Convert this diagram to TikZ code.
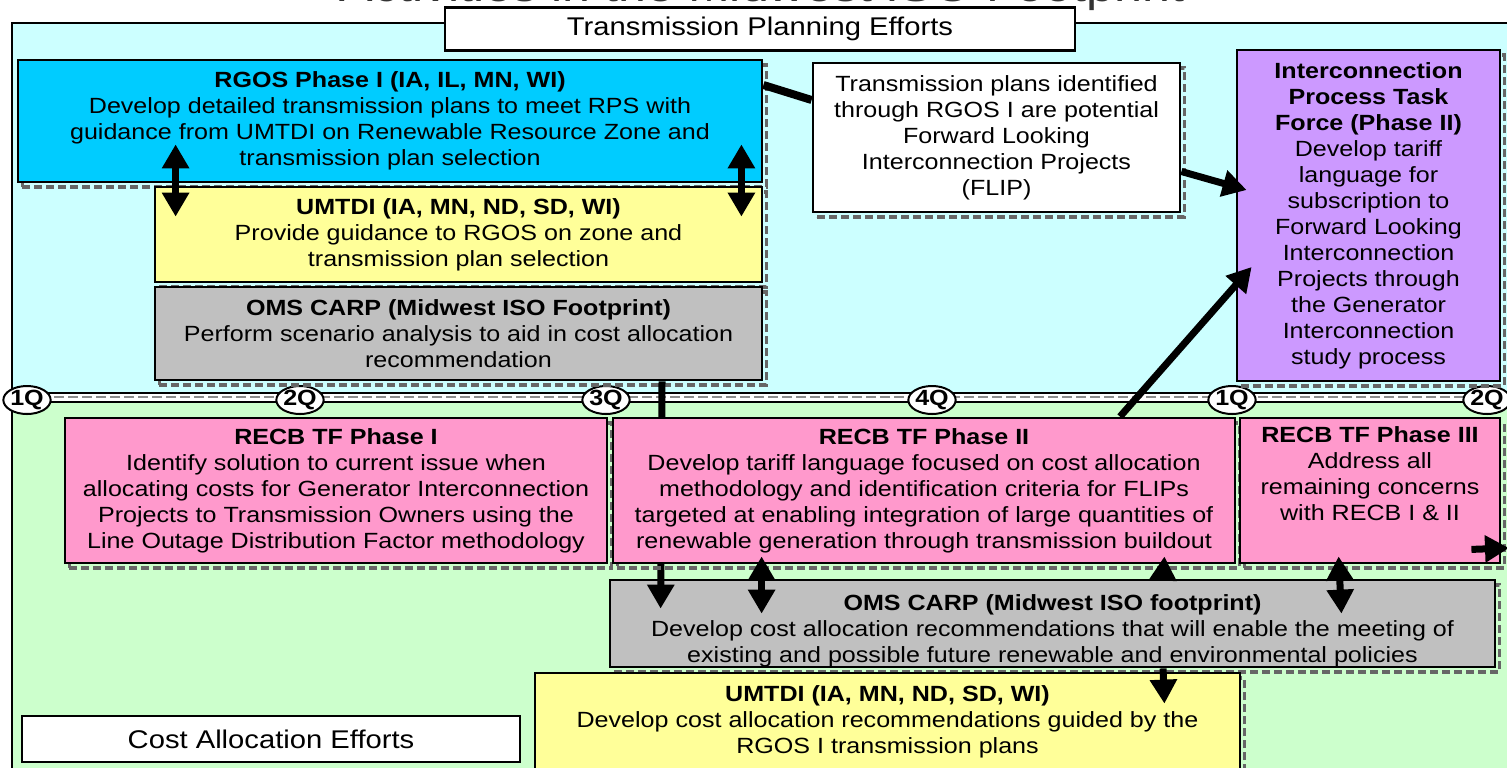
\documentclass[tikz,border=0pt]{standalone}
\usepackage{fontspec}
\setmainfont{Liberation Sans}[FakeStretch=1.14]
\usepackage{xcolor}
\usetikzlibrary{shapes.geometric, shadows, arrows.meta}

\definecolor{planbg}{HTML}{CCFFFF}
\definecolor{costbg}{HTML}{CCFFCC}
\definecolor{rgosblue}{HTML}{00CCFF}
\definecolor{umtdiyellow}{HTML}{FFFF99}
\definecolor{carpgray}{HTML}{C0C0C0}
\definecolor{iptfpurple}{HTML}{CC99FF}
\definecolor{recbpink}{HTML}{FF99CC}

\tikzset{
  task/.style={draw, line width=1.4pt, align=center, inner sep=0pt,
    drop shadow={shadow xshift=2.2pt, shadow yshift=-2.6pt, opacity=1, fill=none,
      draw=black!60, line width=1.8pt, dash pattern=on 4pt off 2pt}},
  effortbox/.style={draw, fill=white, line width=1.4pt, inner sep=0pt,
    font=\fontsize{12.8}{15}\selectfont},
  quarter/.style={ellipse, draw, fill=white, line width=1pt, inner sep=0pt,
    minimum width=21pt, minimum height=14pt, font=\fontsize{11}{12}\selectfont\bfseries},
  bigarrow/.style={line width=3.5pt, -{Triangle[width=13pt,length=12pt]}},
  bothways/.style={line width=3.5pt, {Triangle[width=13pt,length=12pt]}-{Triangle[width=13pt,length=12pt]}},
}

\begin{document}
\begin{tikzpicture}[x=0.5pt, y=-0.5pt, font=\fontsize{11}{13}\selectfont]
\clip (0,0) rectangle (1507,767);

% the two planning areas
\fill[planbg] (12,23) rectangle (1530,397);
\fill[costbg] (12,397) rectangle (1530,790);
\draw[line width=1.2pt] (1530,23) -- (12,23) -- (12,790);

% time line
\draw[line width=1pt, double=white, double distance=3.5pt] (12,397) -- (1530,397);
\draw[black!45, line width=1.2pt, dash pattern=on 5pt off 2pt] (12,397) -- (1530,397);
\foreach \x/\q [count=\i] in {27/1Q, 300/2Q, 606/3Q, 932/4Q, 1232/1Q, 1487/2Q}
  \node[quarter] (q\i) at (\x,400) {\q};

\node[anchor=base, text=black!80, font=\fontsize{22}{26}\selectfont] (title) at (762,1) {Activities in the Midwest ISO Footprint};
\node[effortbox, minimum width=315pt, minimum height=21.5pt] (planning) at (760,29) {Transmission Planning Efforts};
\node[effortbox, minimum width=249pt, minimum height=23pt] (costalloc) at (271,739) {Cost Allocation Efforts};

% transmission planning
\node[task, fill=rgosblue, minimum width=372pt, minimum height=61pt] (rgos) at (390,121)
  {\textbf{RGOS Phase I (IA, IL, MN, WI)}\\Develop detailed transmission plans to meet RPS with\\guidance from UMTDI on Renewable Resource Zone and\\transmission plan selection};
\node[task, fill=umtdiyellow, minimum width=303.5pt, minimum height=47.5pt] (umtdiA) at (458.5,234.5)
  {\textbf{UMTDI (IA, MN, ND, SD, WI)}\\Provide guidance to RGOS on zone and\\transmission plan selection};
\node[task, fill=carpgray, minimum width=303.5pt, minimum height=46.5pt] (carpA) at (458.5,333.5)
  {\textbf{OMS CARP (Midwest ISO Footprint)}\\Perform scenario analysis to aid in cost allocation\\recommendation};
\node[task, fill=white, minimum width=183.5pt, minimum height=74.5pt] (flip) at (996.5,137.5)
  {Transmission plans identified\\through RGOS I are potential\\Forward Looking\\Interconnection Projects\\(FLIP)};
\node[task, fill=iptfpurple, minimum width=131.5pt, minimum height=165.5pt] (iptf) at (1368.5,215.5)
  {\textbf{Interconnection}\\\textbf{Process Task}\\\textbf{Force (Phase II)}\\Develop tariff\\language for\\subscription to\\Forward Looking\\Interconnection\\Projects through\\the Generator\\Interconnection\\study process};

% cost allocation
\node[task, fill=recbpink, minimum width=271pt, minimum height=72.5pt] (recbA) at (336,490.5)
  {\textbf{RECB TF Phase I}\\Identify solution to current issue when\\allocating costs for Generator Interconnection\\Projects to Transmission Owners using the\\Line Outage Distribution Factor methodology};
\node[task, fill=carpgray, minimum width=442.5pt, minimum height=43.5pt] (carpB) at (1052.5,623.5)
  {\rule{0pt}{15pt}\textbf{OMS CARP (Midwest ISO footprint)}\\Develop cost allocation recommendations that will enable the meeting of\\existing and possible future renewable and environmental policies};
\node[task, fill=umtdiyellow, minimum width=352.5pt, minimum height=48.5pt] (umtdiB) at (887.5,721.5)
  {\textbf{UMTDI (IA, MN, ND, SD, WI)}\\Develop cost allocation recommendations guided by the\\RGOS I transmission plans};

% runs behind RECB phase II
\draw[bigarrow] ([xshift=101.75pt]carpA.south) -- ([xshift=26pt,yshift=-15pt]carpB.north west);

\node[task, fill=recbpink, minimum width=311pt, minimum height=72.5pt] (recbB) at (924,490.5)
  {\textbf{RECB TF Phase II}\\Develop tariff language focused on cost allocation\\methodology and identification criteria for FLIPs\\targeted at enabling integration of large quantities of\\renewable generation through transmission buildout};
\node[task, fill=recbpink, minimum width=130pt, minimum height=72.5pt] (recbC) at (1370,490.5)
  {\textbf{RECB TF Phase III}\\Address all\\remaining concerns\\with RECB I \& II\\ \strut};
\coordinate (offpage) at (1509,548);

% connectors
\draw[bothways] ([xshift=79.5pt,yshift=19.5pt]rgos.south west) -- ([xshift=11pt,yshift=-15.5pt]umtdiA.north west);
\draw[bothways] ([xshift=-11pt,yshift=19.5pt]rgos.south east) -- ([xshift=-11pt,yshift=-15.5pt]umtdiA.north east);
\draw[line width=4pt] ([yshift=18pt]rgos.east) -- ([yshift=18.75pt]flip.west);
\draw[bigarrow] ([yshift=-17pt]flip.east) -- ([xshift=5.5pt,yshift=12.75pt]iptf.west);
\draw[bigarrow] ([xshift=98pt]recbB.north) -- ([xshift=8pt,yshift=-25.75pt]iptf.west);
\draw[bothways] ([xshift=75pt,yshift=4pt]recbB.south west) -- ([xshift=76.5pt,yshift=-17.5pt]carpB.north west);
\draw[bigarrow] ([xshift=55.25pt]carpB.north) -- ([xshift=-36pt,yshift=4pt]recbB.south east);
\draw[bigarrow] ([xshift=55.25pt]carpB.south) -- ([xshift=-38.5pt,yshift=-16pt]umtdiB.north east);
\draw[bothways] ([xshift=50pt,yshift=4pt]recbC.south west) -- ([xshift=-77.5pt,yshift=-17.5pt]carpB.north east);
\draw[bigarrow] ([xshift=-15pt,yshift=7.5pt]recbC.south east) -- (offpage);
\end{tikzpicture}
\end{document}
